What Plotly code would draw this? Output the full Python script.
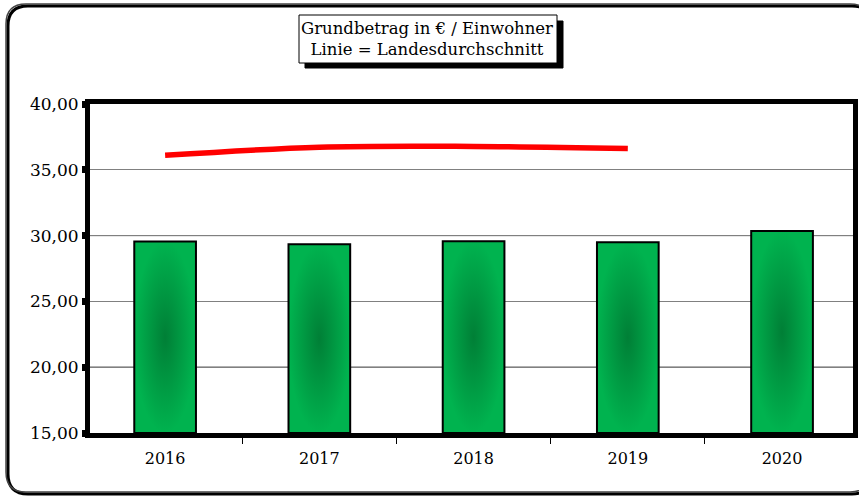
import plotly.graph_objects as go

years = ["2016", "2017", "2018", "2019", "2020"]
grundbetrag = [29.56, 29.34, 29.58, 29.49, 30.35]
landesschnitt = [36.1, 36.72, 36.78, 36.62]

Y_MIN, Y_MAX = 15, 40
BAR_HALF = 0.2

fig = go.Figure()

# Balken als gefüllte Flächen, damit der radiale Verlauf möglich ist
for i, val in enumerate(grundbetrag):
    fig.add_trace(go.Scatter(
        x=[i - BAR_HALF, i + BAR_HALF, i + BAR_HALF, i - BAR_HALF, i - BAR_HALF],
        y=[Y_MIN, Y_MIN, val, val, Y_MIN],
        fill="toself",
        mode="lines",
        line=dict(color="black", width=2),
        fillgradient=dict(type="radial", colorscale=[[0, "#007f36"], [1, "#00b34f"]]),
        hoverinfo="skip",
        showlegend=False,
    ))

fig.add_trace(go.Scatter(
    x=list(range(len(landesschnitt))),
    y=landesschnitt,
    mode="lines",
    line=dict(color="#ff0000", width=5.5, shape="spline", smoothing=1.0),
    showlegend=False,
))

for v in (20, 30):
    fig.add_hline(y=v, line_color="black", line_width=1, layer="below")

# Rahmen mit abgerundeten Ecken (Pixel relativ zur linken unteren Ecke des Plots)
def rounded(x0, y0, x1, y1, r=20):
    return (f"M {x0 + r},{y1} L {x1 - r},{y1} Q {x1},{y1} {x1},{y1 - r} "
            f"L {x1},{y0 + r} Q {x1},{y0} {x1 - r},{y0} "
            f"L {x0 + r},{y0} Q {x0},{y0} {x0},{y0 + r} "
            f"L {x0},{y1 - r} Q {x0},{y1} {x0 + r},{y1} Z")

pix = dict(xref="paper", yref="paper", xsizemode="pixel", ysizemode="pixel")
for path, color, width in [
    (rounded(-82, -61, 782, 427), "black", 3),
    (rounded(-84, -59, 780, 429), "#444444", 1.5),
]:
    fig.add_shape(type="path", path=path, xanchor=0, yanchor=0,
                  line=dict(color=color, width=width), layer="below", **pix)

# Titelkasten mit Schatten
fig.add_shape(type="rect", x0=215, x1=473, y0=36, y1=83, xanchor=0, yanchor=1,
              fillcolor="black", line=dict(color="black", width=1), layer="above", **pix)
fig.add_shape(type="rect", x0=209, x1=467, y0=41, y1=89, xanchor=0, yanchor=1,
              fillcolor="white", line=dict(color="black", width=1), layer="above", **pix)
fig.add_annotation(
    text="Grundbetrag in € / Einwohner<br>Linie = Landesdurchschnitt",
    xref="paper", yref="paper", x=0.442, y=1.0, yanchor="middle", yshift=65,
    showarrow=False, font=dict(family="DejaVu Serif", size=16.5, color="black"),
)

fig.update_layout(
    width=859, height=496,
    margin=dict(l=90, r=1, t=104, b=63),
    paper_bgcolor="white", plot_bgcolor="white",
    separators=",.",
    font=dict(family="DejaVu Serif", size=15, color="black"),
    xaxis=dict(
        range=[-0.487, 4.46],
        tickvals=list(range(len(years))), ticktext=years,
        ticks="", showgrid=False, zeroline=False, ticklabelstandoff=7,
        showline=True, linecolor="black", linewidth=5, mirror=True,
        minor=dict(tickvals=[0.5, 1.5, 2.5, 3.5], ticks="outside",
                   ticklen=6, tickwidth=1, tickcolor="black"),
        tickfont=dict(family="DejaVu Serif", size=16),
    ),
    yaxis=dict(
        range=[Y_MIN, Y_MAX], tickvals=[15, 20, 25, 30, 35, 40],
        tickformat=".2f",
        ticks="outside", ticklen=3, tickwidth=7, tickcolor="black",
        showgrid=True, gridcolor="#808080", gridwidth=1, zeroline=False,
        showline=True, linecolor="black", linewidth=5, mirror=True,
        tickfont=dict(family="DejaVu Serif", size=17),
    ),
)

fig.write_html("out.html", config={"displayModeBar": False},
               post_script="document.body.style.margin = '0';")
